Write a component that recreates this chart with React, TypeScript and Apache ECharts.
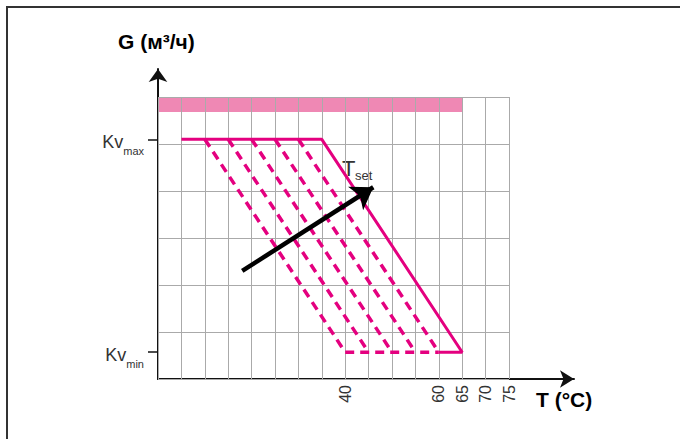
import React, { useEffect, useRef } from 'react';
import * as echarts from 'echarts';

// ---- data ----
const kvMax = 5.1;
const kvMin = 0.57;
const xTickLabels = [40, 60, 65, 70, 75];
const kvTicks = [kvMin, kvMax];
const solidPath = [[5, kvMax], [35, kvMax], [65, kvMin], [60, kvMin]];
const dashTopX = [10, 15, 20, 25, 30];
const dashBottomX = [40, 45, 50, 55, 60];
const bottomDash = [[40, kvMin], [60, kvMin]];
const band = [0, 65, 5.68, 6]; // x0, x1, y0, y1
const arrowFrom = [18, 2.3];
const arrowTo = [46, 4.08];

const FONT = '"Liberation Sans", Arial, sans-serif';
const MAGENTA = '#E4007F';
const GRID = '#aaaaaa';

export default function App() {
  const ref = useRef<HTMLDivElement>(null);
  useEffect(() => {
    const chart = echarts.init(ref.current!, null, { renderer: 'svg' });
    const option: any = {
      animation: false,
      backgroundColor: '#fff',
      grid: [
        { left: 158, top: 97, width: 351, height: 282 },
        { left: 158, top: 69, width: 416, height: 310 },
      ],
      xAxis: [
        {
          gridIndex: 0, type: 'value', min: 0, max: 75, interval: 5, z: 1,
          axisLine: { show: false }, axisTick: { show: false },
          splitLine: { show: true, lineStyle: { color: GRID, width: 1 } },
          axisLabel: {
            show: true, rotate: 90, margin: 6, fontSize: 16, color: '#333', fontFamily: FONT,
            formatter: (v: number) => (xTickLabels.includes(v) ? String(v) : ''),
          },
        },
        {
          gridIndex: 1, type: 'value', min: 0, max: 1,
          axisLine: { show: true, symbol: ['none', 'arrow'], symbolSize: [13, 14], lineStyle: { color: '#111', width: 2 } },
          axisTick: { show: false }, axisLabel: { show: false }, splitLine: { show: false },
        },
      ],
      yAxis: [
        {
          gridIndex: 0, type: 'value', min: 0, max: 6, interval: 1, z: 1,
          axisLine: { show: false }, axisTick: { show: false }, axisLabel: { show: false },
          splitLine: { show: true, lineStyle: { color: GRID, width: 1 } },
        },
        {
          gridIndex: 0, type: 'value', min: 0, max: 6, position: 'left',
          axisLine: { show: false }, splitLine: { show: false },
          axisTick: { show: true, customValues: kvTicks, length: 10, lineStyle: { color: '#111', width: 1.5 } },
          axisLabel: {
            show: true, customValues: kvTicks, margin: 14,
            formatter: (v: number) => (v > 3 ? '{a|Kv}{b|max}' : '{a|Kv}{b|min}'),
            rich: {
              a: { fontSize: 18, padding: [11, 0, 5, 0], verticalAlign: 'top', color: '#333', fontFamily: FONT },
              b: { fontSize: 11, lineHeight: 34, verticalAlign: 'bottom', color: '#333', fontFamily: FONT },
            },
          },
        },
        {
          gridIndex: 1, type: 'value', min: 0, max: 1,
          axisLine: { show: true, symbol: ['none', 'arrow'], symbolSize: [14, 13], lineStyle: { color: '#111', width: 2 } },
          axisTick: { show: false }, axisLabel: { show: false }, splitLine: { show: false },
        },
      ],
      series: [
        {
          type: 'custom', xAxisIndex: 0, yAxisIndex: 0, z: 0, silent: true,
          data: [band],
          renderItem: (_p: any, api: any) => {
            const p1 = api.coord([api.value(0), api.value(3)]);
            const p2 = api.coord([api.value(1), api.value(2)]);
            return {
              type: 'rect',
              shape: { x: p1[0], y: p1[1], width: p2[0] - p1[0], height: p2[1] - p1[1] },
              style: { fill: '#EF88B4' },
            };
          },
        },
        ...dashTopX.map((x, i) => ({
          type: 'line', xAxisIndex: 0, yAxisIndex: 0, z: 3, symbol: 'none', silent: true,
          data: [[x, kvMax], [dashBottomX[i], kvMin]],
          lineStyle: { color: MAGENTA, width: 3.5, type: [9, 6] },
        })),
        {
          type: 'line', xAxisIndex: 0, yAxisIndex: 0, z: 3, symbol: 'none', silent: true,
          data: bottomDash,
          lineStyle: { color: MAGENTA, width: 3.5, type: [9, 6] },
        },
        {
          type: 'line', xAxisIndex: 0, yAxisIndex: 0, z: 4, symbol: 'none', silent: true,
          data: solidPath,
          lineStyle: { color: MAGENTA, width: 3 },
        },
        {
          type: 'lines', coordinateSystem: 'cartesian2d', xAxisIndex: 0, yAxisIndex: 0, z: 5, silent: true,
          symbol: ['none', 'arrow'], symbolSize: 21,
          lineStyle: { color: '#000', width: 4.5, opacity: 1 },
          data: [{ coords: [arrowFrom, arrowTo] }],
        },
      ],
      graphic: [
        { type: 'polyline', silent: true, shape: { points: [[7, 439], [7, 7], [680, 7]] }, style: { stroke: '#333', lineWidth: 2, fill: null } },
        { type: 'text', x: 342, y: 157, style: { text: 'T', fontSize: 22, fill: '#333', fontFamily: FONT } },
        { type: 'text', x: 355, y: 169, style: { text: 'set', fontSize: 13, fill: '#333', fontFamily: FONT } },
        { type: 'text', x: 118, y: 31, style: { text: 'G (м³/ч)', fontSize: 21, fontWeight: 'bold', fill: '#000', fontFamily: FONT } },
        { type: 'text', x: 536, y: 389, style: { text: 'T (°C)', fontSize: 21, fontWeight: 'bold', fill: '#000', fontFamily: FONT } },
      ],
    };
    chart.setOption(option);
    return () => chart.dispose();
  }, []);
  return (
    <div
      ref={ref}
      style={{ position: 'absolute', left: 0, top: 0, width: 680, height: 439, background: '#fff' }}
    />
  );
}
